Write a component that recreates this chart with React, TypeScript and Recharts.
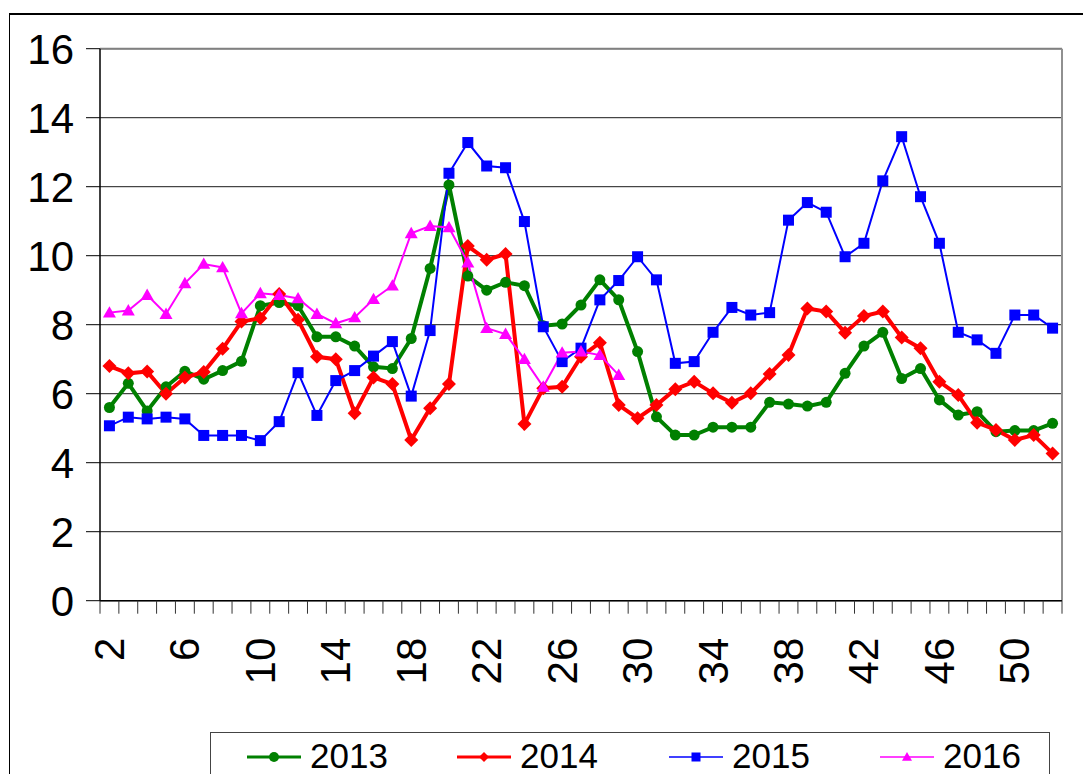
import React from 'react';
import { LineChart, Line, XAxis, YAxis, CartesianGrid, ReferenceLine } from 'recharts';

// weeks 2..52
const WEEKS = [
  2, 3, 4, 5, 6, 7, 8, 9, 10, 11, 12, 13, 14, 15, 16, 17, 18, 19, 20, 21, 22, 23, 24, 25, 26, 27,
  28, 29, 30, 31, 32, 33, 34, 35, 36, 37, 38, 39, 40, 41, 42, 43, 44, 45, 46, 47, 48, 49, 50, 51, 52,
];

const Y2013 = [
  5.6, 6.3, 5.5, 6.2, 6.65, 6.42, 6.67, 6.94, 8.55, 8.64, 8.55, 7.65, 7.65, 7.38, 6.78, 6.73, 7.6,
  9.63, 12.05, 9.41, 9.0, 9.23, 9.13, 7.97, 8.02, 8.57, 9.3, 8.72, 7.22, 5.33, 4.8, 4.8, 5.03, 5.03,
  5.03, 5.75, 5.7, 5.64, 5.75, 6.59, 7.38, 7.78, 6.44, 6.73, 5.82, 5.38, 5.48, 4.9, 4.93, 4.93, 5.14,
];

const Y2014 = [
  6.8, 6.59, 6.64, 6.0, 6.47, 6.63, 7.3, 8.09, 8.19, 8.89, 8.14, 7.07, 7.0, 5.43, 6.47, 6.28, 4.66,
  5.58, 6.28, 10.28, 9.88, 10.05, 5.12, 6.16, 6.2, 7.07, 7.48, 5.67, 5.29, 5.67, 6.13, 6.35, 6.01,
  5.74, 6.01, 6.57, 7.12, 8.47, 8.38, 7.77, 8.25, 8.38, 7.63, 7.32, 6.35, 5.96, 5.16, 4.95, 4.66,
  4.8, 4.27,
];

const Y2015 = [
  5.07, 5.32, 5.27, 5.32, 5.27, 4.79, 4.79, 4.79, 4.64, 5.19, 6.61, 5.37, 6.38, 6.67, 7.09, 7.51,
  5.93, 7.83, 12.39, 13.28, 12.6, 12.55, 10.99, 7.94, 6.93, 7.32, 8.72, 9.28, 9.97, 9.3, 6.88, 6.93,
  7.78, 8.5, 8.28, 8.35, 11.03, 11.54, 11.26, 9.97, 10.36, 12.17, 13.45, 11.71, 10.36, 7.78, 7.56,
  7.17, 8.28, 8.28, 7.9,
];

// 2016 only runs up to week 29
const Y2016 = [
  8.35, 8.41, 8.86, 8.31, 9.2, 9.76, 9.66, 8.33, 8.91, 8.86, 8.76, 8.31, 8.04, 8.21, 8.74, 9.13,
  10.65, 10.86, 10.82, 9.8, 7.9, 7.73, 7.0, 6.2, 7.19, 7.22, 7.12, 6.54,
];

const X_LABELS = [2, 6, 10, 14, 18, 22, 26, 30, 34, 38, 42, 46, 50];
const Y_TICKS = [0, 2, 4, 6, 8, 10, 12, 14, 16];

const SERIES = [
  { key: 'y2013', name: '2013', color: '#008000', width: 4, shape: 'circle', size: 5.5 },
  { key: 'y2014', name: '2014', color: '#ff0000', width: 4, shape: 'diamond', size: 7 },
  { key: 'y2015', name: '2015', color: '#0000ff', width: 2, shape: 'square', size: 5.5 },
  { key: 'y2016', name: '2016', color: '#ff00ff', width: 2, shape: 'triangle', size: 6.5 },
];

const data = WEEKS.map((w, i) => ({
  week: w,
  y2013: Y2013[i],
  y2014: Y2014[i],
  y2015: Y2015[i],
  y2016: i < Y2016.length ? Y2016[i] : null,
}));

// tick marks sit on the category boundaries, labels on the centres
const boundaries = [...WEEKS.map((w) => w - 0.5), WEEKS[WEEKS.length - 1] + 0.5];
const X_DOMAIN = [boundaries[0], boundaries[boundaries.length - 1]];

const FONT = '"Liberation Sans", Arial, sans-serif';

const Marker = ({ shape, cx, cy, color, s }: any) => {
  if (shape === 'circle') return <circle cx={cx} cy={cy} r={s} fill={color} />;
  if (shape === 'diamond')
    return <path d={`M${cx},${cy - s}L${cx + s},${cy}L${cx},${cy + s}L${cx - s},${cy}Z`} fill={color} />;
  if (shape === 'square') return <rect x={cx - s} y={cy - s} width={s * 2} height={s * 2} fill={color} />;
  return <path d={`M${cx},${cy - s}L${cx + s},${cy + s * 0.75}L${cx - s},${cy + s * 0.75}Z`} fill={color} />;
};

const XLabel = ({ x, y, payload }: any) => {
  const ty = y + 24;
  return (
    <text
      x={x}
      y={ty}
      transform={`rotate(-90, ${x}, ${ty})`}
      textAnchor="end"
      dominantBaseline="central"
      fontFamily={FONT}
      fontSize={42}
      fill="#000"
    >
      {payload.value}
    </text>
  );
};

const NoLabel = () => <g />;

const LegendBox = () => {
  const itemX = [37, 247, 459, 670];
  return (
    <div
      style={{
        position: 'absolute',
        left: 210,
        top: 732,
        width: 840,
        height: 60,
        border: '1.5px solid #444',
        background: '#fff',
        boxSizing: 'border-box',
      }}
    >
      <svg width={840} height={60} style={{ position: 'absolute', left: -1.5, top: -1.5 }}>
        {SERIES.map((s, i) => (
          <g key={s.key}>
            <line
              x1={itemX[i]}
              x2={itemX[i] + 54}
              y1={25}
              y2={25}
              stroke={s.color}
              strokeWidth={s.width > 2 ? 3 : 1.5}
            />
            <Marker shape={s.shape} cx={itemX[i] + 27} cy={25} color={s.color} s={s.shape === 'square' ? 4.5 : 5} />
            <text x={itemX[i] + 63} y={36} fontFamily={FONT} fontSize={35} fill="#000">
              {s.name}
            </text>
          </g>
        ))}
      </svg>
    </div>
  );
};

export default function App() {
  return (
    <div style={{ position: 'absolute', left: 0, top: 0, width: 1083, height: 774, background: '#fff', overflow: 'hidden' }}>
      <div
        style={{
          position: 'absolute',
          left: 9,
          top: 13,
          width: 1074,
          height: 780,
          borderTop: '2px solid #000',
          borderLeft: '1.5px solid #000',
        }}
      />
      <div style={{ position: 'absolute', left: 0, top: 0 }}>
        <LineChart width={1083} height={774} data={data} margin={{ top: 48.7, right: 21, left: 0, bottom: 0 }}>
          <CartesianGrid xAxisId={0} vertical={false} stroke="#000" strokeWidth={1} strokeOpacity={0.9} />
          <XAxis
            xAxisId={0}
            dataKey="week"
            type="number"
            domain={X_DOMAIN}
            ticks={boundaries}
            interval={0}
            tick={<NoLabel />}
            tickSize={13}
            height={13}
            axisLine={{ stroke: '#000', strokeWidth: 1.5 }}
            tickLine={{ stroke: '#333', strokeWidth: 1 }}
          />
          <XAxis
            xAxisId={1}
            dataKey="week"
            type="number"
            domain={X_DOMAIN}
            ticks={X_LABELS}
            interval={0}
            tickSize={0}
            tickMargin={0}
            height={160.3}
            axisLine={false}
            tickLine={false}
            tick={<XLabel />}
          />
          <YAxis
            domain={[0, 16]}
            ticks={Y_TICKS}
            interval={0}
            width={100}
            tickSize={14}
            tickMargin={12}
            axisLine={{ stroke: '#000', strokeWidth: 1.5 }}
            tickLine={{ stroke: '#000', strokeWidth: 1 }}
            tick={{ fontFamily: FONT, fontSize: 42, fill: '#000' }}
          />
          <ReferenceLine xAxisId={0} y={16} stroke="#808080" strokeWidth={2} />
          <ReferenceLine xAxisId={0} x={X_DOMAIN[1]} stroke="#909090" strokeWidth={2} />
          {SERIES.map((s) => (
            <Line
              key={s.key}
              xAxisId={0}
              dataKey={s.key}
              name={s.name}
              stroke={s.color}
              strokeWidth={s.width}
              isAnimationActive={false}
              connectNulls={false}
              dot={(p: any) =>
                p.cx == null || p.cy == null || p.value == null ? (
                  <g key={p.key} />
                ) : (
                  <Marker key={p.key} shape={s.shape} cx={p.cx} cy={p.cy} color={s.color} s={s.size} />
                )
              }
              activeDot={false}
            />
          ))}
        </LineChart>
      </div>
      <LegendBox />
    </div>
  );
}
